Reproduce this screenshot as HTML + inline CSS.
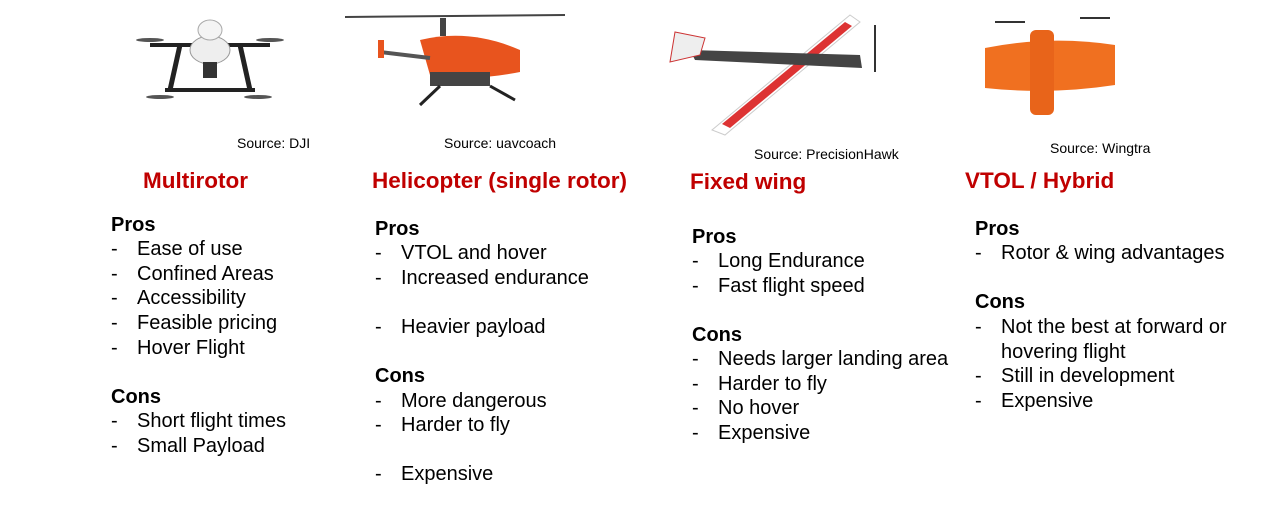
<!DOCTYPE html>
<html><head><meta charset="utf-8">
<style>
body{margin:0;width:1264px;height:524px;background:#fff;position:relative;overflow:hidden;font-family:"Liberation Sans",Arial,sans-serif;color:#000}
.t{position:absolute;white-space:nowrap}
.src{font-size:14px;line-height:15px}
.ttl{font-size:22.5px;font-weight:bold;color:#c00000;line-height:26px}
.h{font-size:20px;font-weight:bold;line-height:23px}
.i{font-size:20px;line-height:23px}
.i span{position:absolute;left:0}
.i b{font-weight:normal;position:absolute;left:26px}
svg{position:absolute;left:0;top:0}
</style></head><body>
<svg width="1264" height="160">
 <g>
  <line x1="150" y1="45" x2="270" y2="45" stroke="#222" stroke-width="4"/>
  <line x1="165" y1="90" x2="255" y2="90" stroke="#222" stroke-width="4"/>
  <line x1="180" y1="45" x2="170" y2="90" stroke="#222" stroke-width="5"/>
  <line x1="240" y1="45" x2="250" y2="90" stroke="#222" stroke-width="5"/>
  <ellipse cx="210" cy="50" rx="20" ry="14" fill="#eee" stroke="#999"/>
  <ellipse cx="210" cy="30" rx="12" ry="10" fill="#f4f4f4" stroke="#aaa"/>
  <rect x="203" y="62" width="14" height="16" fill="#333"/>
  <ellipse cx="150" cy="40" rx="14" ry="2" fill="#555"/><ellipse cx="270" cy="40" rx="14" ry="2" fill="#555"/>
  <ellipse cx="160" cy="97" rx="14" ry="2" fill="#555"/><ellipse cx="258" cy="97" rx="14" ry="2" fill="#555"/>
 </g>
 <g>
  <line x1="345" y1="17" x2="565" y2="15" stroke="#444" stroke-width="2"/>
  <rect x="440" y="18" width="6" height="18" fill="#444"/>
  <path d="M420 40 Q470 28 520 50 L520 72 Q470 82 430 75 Z" fill="#e8541e"/>
  <line x1="380" y1="52" x2="430" y2="58" stroke="#555" stroke-width="4"/>
  <rect x="378" y="40" width="6" height="18" fill="#e8541e"/>
  <rect x="430" y="72" width="60" height="14" fill="#444"/>
  <line x1="440" y1="86" x2="420" y2="105" stroke="#222" stroke-width="3"/>
  <line x1="490" y1="86" x2="515" y2="100" stroke="#222" stroke-width="3"/>
 </g>
 <g>
  <path d="M850 15 L860 22 L725 135 L712 130 Z" fill="#fff" stroke="#ccc"/>
  <path d="M845 22 L852 26 L730 128 L722 124 Z" fill="#d33"/>
  <path d="M690 50 L860 55 L862 68 L695 60 Z" fill="#444"/>
  <path d="M675 32 L705 38 L700 55 L670 62 Z" fill="#eee" stroke="#c33"/>
  <line x1="875" y1="25" x2="875" y2="72" stroke="#333" stroke-width="2"/>
 </g>
 <g>
  <path d="M985 48 Q1050 35 1115 45 L1115 85 Q1050 95 985 88 Z" fill="#f07020"/>
  <rect x="1030" y="30" width="24" height="85" rx="6" fill="#e8641a"/>
  <line x1="995" y1="22" x2="1025" y2="22" stroke="#333" stroke-width="2"/>
  <line x1="1080" y1="18" x2="1110" y2="18" stroke="#333" stroke-width="2"/>
 </g>
</svg>

<div class="t src" style="left:237px;top:136px">Source: DJI</div>
<div class="t src" style="left:444px;top:136px">Source: uavcoach</div>
<div class="t src" style="left:754px;top:147px">Source: PrecisionHawk</div>
<div class="t src" style="left:1050px;top:141px">Source: Wingtra</div>

<div class="t ttl" style="left:143px;top:168px">Multirotor</div>
<div class="t ttl" style="left:372px;top:168px">Helicopter (single rotor)</div>
<div class="t ttl" style="left:690px;top:169px">Fixed wing</div>
<div class="t ttl" style="left:965px;top:168px">VTOL / Hybrid</div>

<div>
<div class="t h" style="left:111px;top:214px">Pros</div>
<div class="t i" style="left:111px;top:238px"><span>-</span><b>Ease of use</b></div>
<div class="t i" style="left:111px;top:263px"><span>-</span><b>Confined Areas</b></div>
<div class="t i" style="left:111px;top:287px"><span>-</span><b>Accessibility</b></div>
<div class="t i" style="left:111px;top:312px"><span>-</span><b>Feasible pricing</b></div>
<div class="t i" style="left:111px;top:337px"><span>-</span><b>Hover Flight</b></div>
<div class="t h" style="left:111px;top:386px">Cons</div>
<div class="t i" style="left:111px;top:410px"><span>-</span><b>Short flight times</b></div>
<div class="t i" style="left:111px;top:435px"><span>-</span><b>Small Payload</b></div>
</div>

<div>
<div class="t h" style="left:375px;top:218px">Pros</div>
<div class="t i" style="left:375px;top:242px"><span>-</span><b>VTOL and hover</b></div>
<div class="t i" style="left:375px;top:267px"><span>-</span><b>Increased endurance</b></div>
<div class="t i" style="left:375px;top:316px"><span>-</span><b>Heavier payload</b></div>
<div class="t h" style="left:375px;top:365px">Cons</div>
<div class="t i" style="left:375px;top:390px"><span>-</span><b>More dangerous</b></div>
<div class="t i" style="left:375px;top:414px"><span>-</span><b>Harder to fly</b></div>
<div class="t i" style="left:375px;top:463px"><span>-</span><b>Expensive</b></div>
</div>

<div>
<div class="t h" style="left:692px;top:226px">Pros</div>
<div class="t i" style="left:692px;top:250px"><span>-</span><b>Long Endurance</b></div>
<div class="t i" style="left:692px;top:275px"><span>-</span><b>Fast flight speed</b></div>
<div class="t h" style="left:692px;top:324px">Cons</div>
<div class="t i" style="left:692px;top:348px"><span>-</span><b>Needs larger landing area</b></div>
<div class="t i" style="left:692px;top:373px"><span>-</span><b>Harder to fly</b></div>
<div class="t i" style="left:692px;top:397px"><span>-</span><b>No hover</b></div>
<div class="t i" style="left:692px;top:422px"><span>-</span><b>Expensive</b></div>
</div>

<div>
<div class="t h" style="left:975px;top:218px">Pros</div>
<div class="t i" style="left:975px;top:242px"><span>-</span><b>Rotor &amp; wing advantages</b></div>
<div class="t h" style="left:975px;top:291px">Cons</div>
<div class="t i" style="left:975px;top:316px"><span>-</span><b>Not the best at forward or</b></div>
<div class="t i" style="left:975px;top:341px"><b>hovering flight</b></div>
<div class="t i" style="left:975px;top:365px"><span>-</span><b>Still in development</b></div>
<div class="t i" style="left:975px;top:390px"><span>-</span><b>Expensive</b></div>
</div>
</body></html>
